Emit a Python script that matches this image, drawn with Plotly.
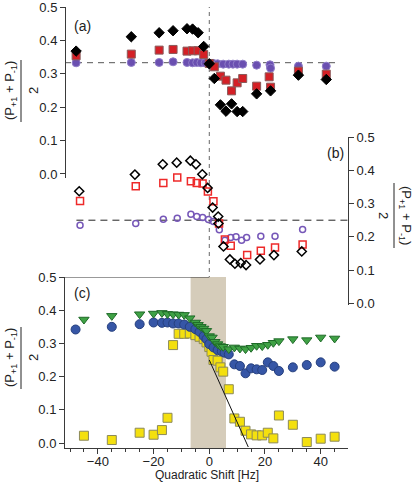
import plotly.graph_objects as go

# ---- panel (a): filled markers ----
a_black_x = [-47.8, -28, -18, -13, -8, -6, -4, -2, 0, 1.8, 4, 6, 8, 10, 12, 17, 22, 32, 42]
a_black_y = [0.368, 0.411, 0.423, 0.429, 0.435, 0.434, 0.423, 0.382, 0.330, 0.286, 0.207,
             0.188, 0.210, 0.187, 0.187, 0.240, 0.249, 0.296, 0.283]
a_red_x = [-47.8, -28, -18, -13, -8, -6, -4, -2, 0, 1.8, 4, 6, 8, 10, 12, 17, 21.5, 22, 32, 42]
a_red_y = [0.354, 0.359, 0.371, 0.373, 0.368, 0.369, 0.369, 0.358, 0.331, 0.321, 0.293,
           0.281, 0.249, 0.273, 0.286, 0.263, 0.291, 0.260, 0.308, 0.299]
a_purple_x = [-47.8, -28, -18, -13, -8, -6, -4.5, -3, -1.5, 0, 1.5, 3, 5, 7, 8.5, 10, 12,
              17, 21.8, 22, 32, 42]
a_purple_y = [0.333, 0.334, 0.334, 0.336, 0.334, 0.333, 0.334, 0.333, 0.333, 0.331, 0.331,
              0.330, 0.329, 0.329, 0.329, 0.329, 0.329, 0.326, 0.327, 0.317, 0.323, 0.323]

# ---- panel (b): open markers ----
b_black_x = [-46.7, -26.7, -16.7, -11.7, -6.8, -4.8, -2.5, -0.6, 1.2, 3.2, 3.3, 5.1, 7.4,
             9.2, 11.3, 13.2, 18.2, 23.2, 33.2]
b_black_y = [0.337, 0.387, 0.418, 0.423, 0.429, 0.418, 0.388, 0.347, 0.288, 0.261, 0.240,
             0.171, 0.132, 0.119, 0.121, 0.115, 0.132, 0.145, 0.156]
b_red_x = [-46.4, -26.4, -16.5, -11.5, -6.6, -4.5, -2.4, -0.5, 1.5, 3.5, 5.6, 7.7, 13.6,
           18.5, 23.6, 33.5]
b_red_y = [0.308, 0.352, 0.362, 0.378, 0.367, 0.362, 0.360, 0.336, 0.307, 0.240, 0.192,
           0.173, 0.145, 0.158, 0.168, 0.177]
b_purple_x = [-46.4, -26.4, -16.5, -11.5, -6.6, -4.5, -2.4, -0.3, 1.5, 3.6, 5.6, 7.7, 9.6,
              11.6, 13.4, 18.5, 23.6, 33.5]
b_purple_y = [0.235, 0.240, 0.253, 0.256, 0.268, 0.261, 0.258, 0.252, 0.246, 0.221, 0.190,
              0.198, 0.200, 0.190, 0.198, 0.202, 0.202, 0.222]

# ---- panel (c) ----
c_green_x = [-45, -35, -25, -20, -17, -15, -13, -11, -9, -7, -5, -4, -3, -2, -1, 0, 1, 2, 3,
             4, 5, 7, 9, 11, 13, 15, 17, 19, 21, 23, 25, 30, 35, 40, 45]
c_green_y = [0.372, 0.383, 0.388, 0.390, 0.392, 0.389, 0.388, 0.387, 0.386, 0.376, 0.363,
             0.356, 0.350, 0.345, 0.338, 0.322, 0.318, 0.305, 0.298, 0.292, 0.290, 0.283,
             0.288, 0.285, 0.283, 0.287, 0.293, 0.292, 0.296, 0.302, 0.307, 0.313, 0.310,
             0.318, 0.315]
c_blue_x = [-48, -35, -25, -20, -17, -15, -13, -11, -9, -7, -5, -3.5, -2, -1, 0, 1.5, 3, 4.5,
            5.5, 7, 9, 11, 13, 15, 17, 19, 21, 23, 25, 30, 35, 40, 45]
c_blue_y = [0.342, 0.350, 0.358, 0.363, 0.362, 0.363, 0.360, 0.360, 0.357, 0.350, 0.343,
            0.335, 0.322, 0.313, 0.298, 0.288, 0.280, 0.276, 0.272, 0.267, 0.237, 0.232,
            0.210, 0.225, 0.222, 0.220, 0.243, 0.232, 0.217, 0.228, 0.235, 0.243, 0.230]
c_yellow_x = [-45, -35, -25, -20, -17, -15, -13, -11, -9, -7, -5, -3.5, -2, -1, 0, 0.8, 1.5,
              3, 4, 5, 7, 9, 11, 13, 15, 17, 19, 21, 23, 25, 30, 35, 40, 45]
c_yellow_y = [0.022, 0.009, 0.031, 0.025, 0.039, 0.076, 0.295, 0.329, 0.329, 0.330, 0.325,
              0.320, 0.313, 0.303, 0.289, 0.275, 0.250, 0.248, 0.228, 0.215, 0.162, 0.074,
              0.064, 0.037, 0.026, 0.023, 0.023, 0.031, 0.014, 0.083, 0.055, 0.003, 0.013,
              0.019]
fit_x = [0, 14]
fit_y = [0.25, -0.012]

FONT = "Liberation Sans, Arial, sans-serif"
AXIS = "#3a3a3a"

# plot area in pixels: x 65..348, y 7..448
L, R, T, B = 65, 68, 7, 36
W, H = 416, 484
PW, PH = W - L - R, H - T - B


def px(xp):
    return (xp - L) / PW


def py(yp):
    return (H - B - yp) / PH


fig = go.Figure()


def scat(x, y, yaxis, symbol, size, color, line_color, line_width=1):
    fig.add_trace(go.Scatter(
        x=x, y=y, yaxis=yaxis, mode="markers", showlegend=False,
        marker=dict(symbol=symbol, size=size, color=color,
                    line=dict(color=line_color, width=line_width)),
    ))


# panel (a)
scat(a_purple_x, a_purple_y, "y2", "circle", 8, "#6a4fb0", "#8f7cc8")
scat(a_red_x, a_red_y, "y2", "square", 8, "#d42026", "#8a5a5a")
scat(a_black_x, a_black_y, "y2", "diamond", 8, "#000000", "#000000")

# panel (b)
scat(b_purple_x, b_purple_y, "y3", "circle-open", 6, "#7657b8", "#7657b8", 1.5)
scat(b_red_x, b_red_y, "y3", "square-open", 7, "#ee2a2a", "#ee2a2a", 1.5)
scat(b_black_x, b_black_y, "y3", "diamond-open", 7, "#000000", "#000000", 1.5)

# panel (c)
scat(c_yellow_x, c_yellow_y, "y", "square", 9, "#f4e00e", "#8c8a5a")
scat(c_blue_x, c_blue_y, "y", "circle", 9, "#3656a6", "#26407e")
scat(c_green_x, c_green_y, "y", "triangle-down", 9, "#3fa245", "#1f6a28")
fig.add_trace(go.Scatter(x=fit_x, y=fit_y, yaxis="y", mode="lines", showlegend=False,
                         line=dict(color="#111111", width=1)))

shapes = [
    # shaded region in (c)
    dict(type="rect", xref="x", yref="y", x0=-6.7, x1=6.0, y0=-0.015, y1=0.5,
         fillcolor="#d5ccba", line=dict(width=0), layer="below"),
    # vertical dashed line through all panels
    dict(type="line", xref="x", yref="paper", x0=0, x1=0, y0=0, y1=1,
         line=dict(color="#666666", width=1, dash="4px,4px"), layer="below"),
    # dashed 1/3 line in (a)
    dict(type="line", xref="x", yref="y2", x0=-51.8, x1=45.5, y0=1 / 3, y1=1 / 3,
         line=dict(color="#555555", width=1, dash="6px,5px"), layer="below"),
    # dashed 0.25 line in (b)
    dict(type="line", xref="x", yref="y3", x0=-47.7, x1=49.8, y0=0.25, y1=0.25,
         line=dict(color="#222222", width=1, dash="7px,5px"), layer="below"),
    # top frame of (c)
    dict(type="line", xref="x", yref="y", x0=-51.8, x1=0, y0=0.5, y1=0.5,
         line=dict(color=AXIS, width=1)),
    # fraction bars of axis titles
    dict(type="line", xref="paper", yref="paper", x0=px(21), x1=px(21), y0=py(60), y1=py(122),
         line=dict(color="#222222", width=1)),
    dict(type="line", xref="paper", yref="paper", x0=px(21), x1=px(21), y0=py(327), y1=py(389),
         line=dict(color="#222222", width=1)),
    dict(type="line", xref="paper", yref="paper", x0=px(394), x1=px(394), y0=py(183), y1=py(248),
         line=dict(color="#222222", width=1)),
]

num = "(P<sub>+1</sub> + P<sub>-1</sub>)"
annotations = []
for xp, yp, txt, ang in [
    (10, 91, num, -90), (33, 91, "2", -90),
    (10, 358, num, -90), (33, 358, "2", -90),
    (406, 215, num, 90), (384, 215, "2", 90),
]:
    annotations.append(dict(xref="paper", yref="paper", x=px(xp), y=py(yp), text=txt,
                            textangle=ang, showarrow=False, xanchor="center",
                            yanchor="middle", font=dict(size=13, color="#222222")))
for xp, yp, txt in [(82, 26, "(a)"), (335, 153, "(b)"), (82, 293, "(c)")]:
    annotations.append(dict(xref="paper", yref="paper", x=px(xp), y=py(yp), text=txt,
                            showarrow=False, xanchor="center", yanchor="middle",
                            font=dict(size=14, color="#222222")))
# x-axis title
annotations.append(dict(xref="paper", yref="paper", x=px(207), y=py(475),
                        text="Quadratic Shift [Hz]", showarrow=False, xanchor="center",
                        yanchor="middle", font=dict(size=12, color="#222222")))

yaxis_common = dict(
    showgrid=False, zeroline=False, showline=True, linecolor=AXIS, linewidth=1,
    ticks="outside", ticklen=5, tickcolor=AXIS, dtick=0.1, tick0=0, tickformat=".1f",
    tickfont=dict(size=13, color="#222222"), automargin=False, ticklabeloverflow="allow",
)

fig.update_layout(
    width=W, height=H,
    margin=dict(l=L, r=R, t=T, b=B, autoexpand=False),
    paper_bgcolor="white", plot_bgcolor="rgba(0,0,0,0)",
    font=dict(family=FONT, color="#222222"),
    showlegend=False,
    xaxis=dict(
        domain=[0, 1], range=[-51.8, 49.8], anchor="y", automargin=False,
        showgrid=False, zeroline=False, showline=True, linecolor=AXIS, linewidth=1,
        ticks="outside", ticklen=5, tickcolor=AXIS, dtick=20, tick0=0,
        tickfont=dict(size=13, color="#222222"), ticklabeloverflow="allow",
        ticklabelstandoff=-4,
        minor=dict(dtick=5, tick0=0, ticks="outside", ticklen=3, tickcolor=AXIS),
    ),
    yaxis=dict(domain=[0, py(277)], range=[-0.015, 0.5001], anchor="x", **yaxis_common),
    yaxis2=dict(domain=[py(178), 1], range=[-0.012, 0.5001], anchor="free", position=0,
                **yaxis_common),
    yaxis3=dict(domain=[py(305), py(137)], range=[-0.005, 0.5001], anchor="free", position=1,
                side="right", **yaxis_common),
    shapes=shapes,
    annotations=annotations,
)

# the page's default body margin would shift the figure; remove it
fig.write_html("out.html", config={"displayModeBar": False},
               post_script="document.body.style.margin='0';")
